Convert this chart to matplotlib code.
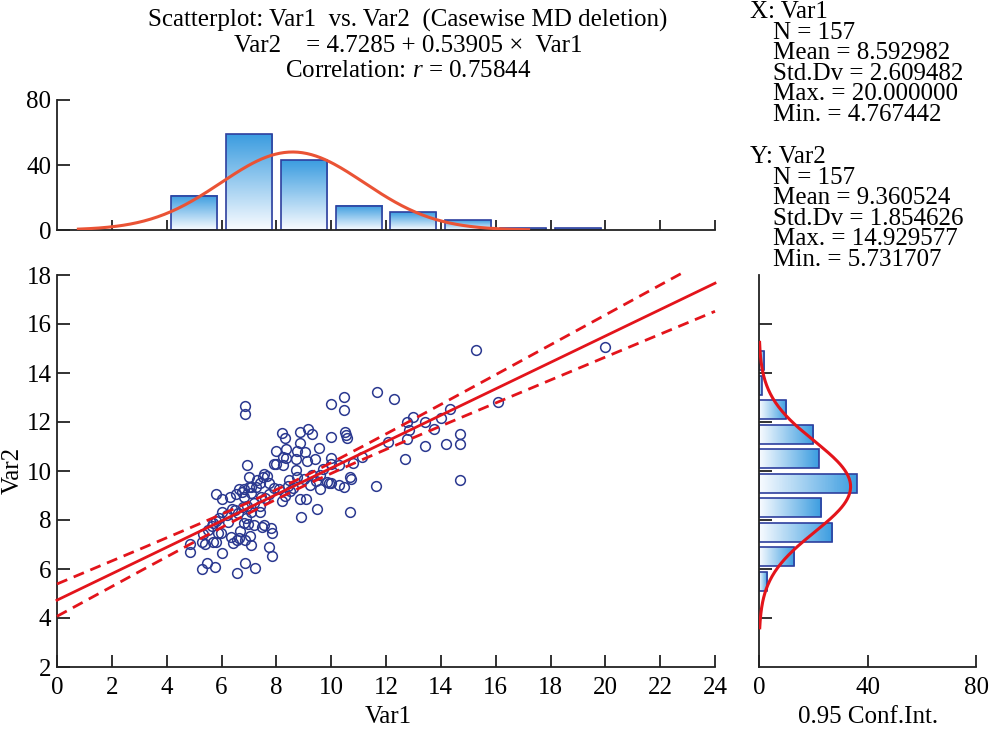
import numpy as np
import matplotlib
matplotlib.use('Agg')
import matplotlib.pyplot as plt
from matplotlib.patches import Rectangle
from matplotlib.colors import LinearSegmentedColormap

plt.rcParams['font.family'] = ['Liberation Serif', 'DejaVu Serif']
plt.rcParams['mathtext.fontset'] = 'custom'
plt.rcParams['mathtext.rm'] = 'Liberation Serif'
plt.rcParams['mathtext.it'] = 'Liberation Serif:italic'

# scatter points
var1 = [20.0, 15.28, 6.86, 6.86, 10.0, 10.48, 10.48, 11.68, 12.29, 16.1,
        14.33, 13.0, 12.78, 13.42, 14.0, 13.75, 12.78, 12.07, 13.42, 14.19,
        14.7, 14.7, 14.7, 12.68, 11.14, 10.8, 11.63, 10.69, 12.84, 10.5,
        10.55, 10.58, 10.0, 10.0, 10.0, 10.3, 10.68, 10.72, 10.0, 10.3,
        10.48, 9.85, 9.93, 9.5, 8.89, 8.88, 9.1, 8.2, 9.61, 9.23,
        9.61, 9.3, 9.0, 8.74, 8.47, 8.5, 8.44, 8.72, 9.56, 8.22,
        8.31, 8.88, 9.17, 9.29, 8.88, 8.35, 8.0, 8.75, 9.06, 8.23,
        8.35, 8.7, 9.12, 9.41, 7.9, 8.0, 8.23, 6.92, 7.0, 7.55,
        7.65, 7.74, 7.28, 7.4, 7.26, 7.01, 6.65, 6.74, 6.82, 6.53,
        6.31, 5.8, 6.0, 6.82, 7.06, 7.74, 7.44, 6.4, 6.0, 6.8,
        6.92, 7.06, 7.4, 7.4, 6.59, 5.8, 5.7, 6.23, 6.82, 6.95,
        7.2, 7.46, 7.56, 7.8, 7.86, 5.97, 5.86, 5.32, 6.67, 7.03,
        6.35, 6.55, 6.65, 6.85, 6.43, 7.07, 7.74, 7.83, 5.3, 5.4,
        5.68, 5.8, 4.84, 4.84, 6.0, 5.28, 5.46, 5.76, 6.55, 6.86,
        7.21, 8.1, 7.07, 7.5, 6.5, 5.5, 5.65, 5.9, 6.2, 7.2,
        7.6, 7.9, 6.9, 8.3, 8.6, 9.45, 9.7]
var2 = [15.05, 14.95, 12.65, 12.32, 12.73, 13.01, 12.5, 13.22, 12.95, 12.8,
        12.53, 12.22, 12.0, 12.0, 12.15, 11.7, 11.3, 11.17, 11.03, 11.11,
        11.51, 11.11, 9.63, 10.48, 10.57, 10.32, 9.39, 8.32, 11.67, 11.58,
        11.47, 11.33, 11.4, 10.54, 10.3, 10.25, 9.76, 9.69, 9.53, 9.42,
        9.34, 9.54, 9.52, 8.43, 8.11, 8.87, 8.85, 8.78, 9.27, 9.44,
        9.82, 9.85, 9.68, 9.74, 9.63, 9.2, 9.4, 10.04, 10.95, 11.56,
        11.35, 11.6, 11.71, 11.51, 11.15, 10.89, 10.8, 10.83, 10.79, 10.58,
        10.55, 10.47, 10.42, 10.48, 10.29, 10.29, 10.24, 10.24, 9.76, 9.88,
        9.8, 9.53, 9.63, 9.53, 9.33, 9.33, 9.25, 9.16, 9.25, 9.07,
        8.93, 9.06, 8.84, 8.95, 9.09, 9.06, 8.95, 8.45, 8.32, 8.55,
        8.57, 8.34, 8.57, 8.32, 8.3, 7.97, 7.89, 7.91, 7.89, 7.82,
        7.79, 7.73, 7.8, 7.68, 7.47, 7.46, 7.47, 7.41, 7.55, 7.35,
        7.3, 7.19, 7.28, 7.18, 7.05, 6.98, 6.91, 6.54, 7.11, 7.03,
        7.11, 7.11, 7.04, 6.7, 6.66, 5.99, 6.25, 6.1, 5.82, 6.25,
        6.06, 9.25, 9.36, 9.74, 8.4, 7.6, 7.75, 8.1, 8.2, 8.7,
        8.9, 9.3, 8.1, 9.0, 9.3, 9.6, 10.1]

# histogram of Var1 (bins of width 2)
hist1_centers = [5, 7, 9, 11, 13, 15, 17, 19]
hist1_counts = [21, 59, 43, 15, 11, 6, 1, 1]

# histogram of Var2 (bins of width 1)
hist2_centers = [5.5, 6.5, 7.5, 8.5, 9.5, 10.5, 11.5, 12.5, 13.5, 14.5]
hist2_counts = [3, 13, 27, 23, 36, 22, 20, 10, 1, 2]

# statistics printed on the chart
n = 157
mean1, sd1, max1, min1 = 8.592982, 2.609482, 20.000000, 4.767442
mean2, sd2, max2, min2 = 9.360524, 1.854626, 14.929577, 5.731707
b0, b1, r = 4.7285, 0.53905, 0.75844

W, H = 997, 734
fig = plt.figure(figsize=(W / 100, H / 100), dpi=100)

def px_axes(x0, y0, x1, y1):
    # axes from pixel box (left, top, right, bottom)
    return fig.add_axes([x0 / W, 1 - y1 / H, (x1 - x0) / W, (y1 - y0) / H])

ax = px_axes(57, 275, 715, 667)
ax_top = px_axes(57, 100, 715, 230)
ax_r = px_axes(759, 275, 976, 667)

fs = 18
navy = '#2b3990'
edge = '#2e3f9e'
blue = LinearSegmentedColormap.from_list('bl', ['#f8fbff', '#3c9de0'])

for a in (ax, ax_top, ax_r):
    for s in ('top', 'right'):
        a.spines[s].set_visible(False)
    for s in ('left', 'bottom'):
        a.spines[s].set_linewidth(1.3)
        a.spines[s].set_color('#222222')
    a.tick_params(direction='in', length=9, width=1.3, labelsize=fs, colors='#222222', labelcolor='black')

# ---- scatter with regression line and confidence band
ax.plot(var1, var2, 'o', mfc='none', mec=navy, ms=7, mew=1.1, zorder=3)

xs = np.linspace(0, 24, 300)
yhat = b0 + b1 * xs
s_res = sd2 * np.sqrt(1 - r ** 2) * np.sqrt((n - 1) / (n - 2))
sxx = (n - 1) * sd1 ** 2
marg = 1.975 * s_res * np.sqrt(1.0 / n + (xs - mean1) ** 2 / sxx)
up = yhat + marg
lo = yhat - marg
m = up <= 18.1
ax.plot(xs, yhat, color='#e3141b', lw=2.0, zorder=4, clip_on=False)
ax.plot(xs[m], up[m], color='#e3141b', lw=2.0, ls=(0, (4, 2.5)), zorder=4, clip_on=False)
ax.plot(xs, lo, color='#e3141b', lw=2.0, ls=(0, (4, 2.5)), zorder=4, clip_on=False)

ax.set_xlim(0, 24)
ax.set_ylim(2, 18)
ax.set_xticks(range(0, 25, 2))
ax.set_yticks(range(2, 19, 2))
ax.tick_params(axis='x', pad=7)
ax.tick_params(axis='y', pad=4)

# ---- top histogram (Var1)
grad_v = np.linspace(0, 1, 64).reshape(-1, 1)
for c, h in zip(hist1_centers, hist1_counts):
    x0, x1 = c - 0.84, c + 0.84
    ax_top.imshow(grad_v, extent=(x0, x1, 0, h), origin='lower', cmap=blue,
                  aspect='auto', zorder=1)
    ax_top.add_patch(Rectangle((x0, 0), x1 - x0, h, fill=False, ec=edge, lw=1.2, zorder=2))
gx = np.linspace(0.78, 17.2, 200)
gy = n * 2 / (sd1 * np.sqrt(2 * np.pi)) * np.exp(-0.5 * ((gx - mean1) / sd1) ** 2)
ax_top.plot(gx, gy, color='#ea5335', lw=2.2, zorder=3)
ax_top.set_xlim(0, 24)
ax_top.set_ylim(0, 80)
ax_top.set_xticks(range(2, 25, 2))
ax_top.set_xticklabels([])
ax_top.set_yticks([0, 40, 80])
ax_top.tick_params(axis='x', length=7)
ax_top.tick_params(axis='y', pad=4)

# ---- right histogram (Var2)
grad_h = np.linspace(0, 1, 64).reshape(1, -1)
for c, w in zip(hist2_centers, hist2_counts):
    y0, y1 = c - 0.38, c + 0.38
    ax_r.imshow(grad_h, extent=(0, w, y0, y1), origin='lower', cmap=blue,
                aspect='auto', zorder=1)
    ax_r.add_patch(Rectangle((0, y0), w, y1 - y0, fill=False, ec=edge, lw=1.2, zorder=2))
hy = np.linspace(3.6, 15.25, 200)
hx = n * 1 / (sd2 * np.sqrt(2 * np.pi)) * np.exp(-0.5 * ((hy - mean2) / sd2) ** 2)
ax_r.plot(hx, hy, color='#e3141b', lw=2.2, zorder=3)
ax_r.set_xlim(0, 80)
ax_r.set_ylim(2, 18)
ax_r.set_xticks([0, 40, 80])
ax_r.set_yticks(range(4, 17, 2))
ax_r.set_yticklabels([])
ax_r.tick_params(axis='x', pad=7)

# ---- texts
cx = 408 / W
fig.text(cx, 1 - 20 / H, 'Scatterplot: Var1  vs. Var2  (Casewise MD deletion)',
         ha='center', va='center', fontsize=fs)
fig.text(cx, 1 - 46 / H, 'Var2    = %.4f + %.5f \u00d7  Var1' % (b0, b1),
         ha='center', va='center', fontsize=fs)
fig.text(cx, 1 - 71 / H, 'Correlation: $\\mathit{r}$ = %.5f' % r,
         ha='center', va='center', fontsize=fs)

fig.text(388 / W, 1 - 717 / H, 'Var1', ha='center', va='center', fontsize=fs)
fig.text(13 / W, 1 - 470 / H, 'Var2', ha='center', va='center', rotation=90, fontsize=fs)
fig.text(868 / W, 1 - 717 / H, '0.95 Conf.Int.', ha='center', va='center', fontsize=fs)

def stats_block(top, name, mean, sd, mx, mn):
    lines = ['N = %d' % n, 'Mean = %.6f' % mean, 'Std.Dv = %.6f' % sd,
             'Max. = %.6f' % mx, 'Min. = %.6f' % mn]
    fig.text(750 / W, 1 - top / H, name, ha='left', va='center', fontsize=fs)
    for i, t in enumerate(lines):
        fig.text(773 / W, 1 - (top + 20.6 * (i + 1)) / H, t, ha='left', va='center', fontsize=fs)

stats_block(12, 'X: Var1', mean1, sd1, max1, min1)
stats_block(157, 'Y: Var2', mean2, sd2, max2, min2)

fig.savefig('out.png', dpi=100)
